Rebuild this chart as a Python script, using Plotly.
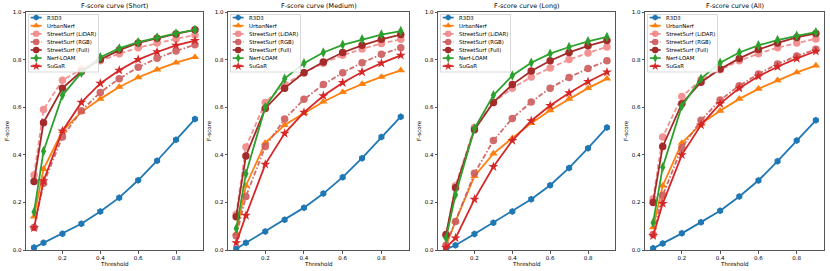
import plotly.graph_objects as go

thresholds = [0.05, 0.1, 0.2, 0.3, 0.4, 0.5, 0.6, 0.7, 0.8, 0.9]
panel_titles = ["F-score curve (Short)", "F-score curve (Medium)", "F-score curve (Long)", "F-score curve (All)"]
methods = ["R3D3", "UrbanNerf", "StreetSurf (LiDAR)", "StreetSurf (RGB)", "StreetSurf (Full)", "Nerf-LOAM", "SuGaR"]

short_r3d3 = [0.01, 0.03, 0.068, 0.11, 0.162, 0.22, 0.293, 0.375, 0.463, 0.55]
short_urban = [0.14, 0.34, 0.50, 0.58, 0.635, 0.685, 0.725, 0.758, 0.787, 0.81]
short_lidar = [0.315, 0.59, 0.713, 0.76, 0.795, 0.825, 0.85, 0.87, 0.887, 0.903]
short_rgb = [0.095, 0.28, 0.475, 0.585, 0.662, 0.72, 0.768, 0.806, 0.836, 0.862]
short_full = [0.288, 0.535, 0.68, 0.75, 0.80, 0.84, 0.87, 0.89, 0.908, 0.925]
short_nerfloam = [0.16, 0.415, 0.65, 0.745, 0.81, 0.847, 0.873, 0.893, 0.91, 0.925]
short_sugar = [0.093, 0.29, 0.50, 0.62, 0.70, 0.755, 0.80, 0.832, 0.86, 0.88]

medium_r3d3 = [0.005, 0.03, 0.078, 0.127, 0.178, 0.237, 0.306, 0.386, 0.475, 0.56]
medium_urban = [0.07, 0.27, 0.45, 0.525, 0.575, 0.623, 0.663, 0.697, 0.727, 0.755]
medium_lidar = [0.15, 0.433, 0.62, 0.695, 0.745, 0.785, 0.818, 0.845, 0.868, 0.885]
medium_rgb = [0.06, 0.225, 0.435, 0.55, 0.633, 0.695, 0.745, 0.787, 0.822, 0.85]
medium_full = [0.14, 0.395, 0.595, 0.68, 0.745, 0.79, 0.83, 0.86, 0.885, 0.905]
medium_nerfloam = [0.09, 0.32, 0.60, 0.72, 0.785, 0.83, 0.862, 0.885, 0.905, 0.92]
medium_sugar = [0.03, 0.145, 0.36, 0.49, 0.578, 0.648, 0.703, 0.748, 0.785, 0.818]

long_r3d3 = [0.003, 0.02, 0.067, 0.115, 0.162, 0.213, 0.272, 0.345, 0.428, 0.515]
long_urban = [0.02, 0.12, 0.31, 0.405, 0.47, 0.533, 0.587, 0.635, 0.68, 0.72]
long_lidar = [0.06, 0.27, 0.515, 0.62, 0.68, 0.727, 0.765, 0.80, 0.828, 0.853]
long_rgb = [0.02, 0.12, 0.322, 0.46, 0.553, 0.622, 0.68, 0.725, 0.763, 0.795]
long_full = [0.065, 0.262, 0.505, 0.62, 0.695, 0.752, 0.795, 0.83, 0.858, 0.88]
long_nerfloam = [0.05, 0.232, 0.51, 0.65, 0.733, 0.787, 0.825, 0.853, 0.877, 0.895]
long_sugar = [0.01, 0.05, 0.213, 0.35, 0.46, 0.543, 0.607, 0.66, 0.707, 0.747]

all_r3d3 = [0.007, 0.027, 0.07, 0.117, 0.165, 0.225, 0.292, 0.373, 0.46, 0.545]
all_urban = [0.095, 0.27, 0.45, 0.53, 0.585, 0.635, 0.677, 0.713, 0.746, 0.775]
all_lidar = [0.215, 0.475, 0.645, 0.715, 0.757, 0.795, 0.825, 0.85, 0.87, 0.887]
all_rgb = [0.065, 0.23, 0.43, 0.545, 0.63, 0.69, 0.74, 0.782, 0.815, 0.843]
all_full = [0.2, 0.435, 0.615, 0.705, 0.76, 0.805, 0.842, 0.87, 0.893, 0.91]
all_nerfloam = [0.115, 0.348, 0.605, 0.72, 0.787, 0.83, 0.86, 0.882, 0.9, 0.915]
all_sugar = [0.06, 0.195, 0.40, 0.525, 0.615, 0.68, 0.73, 0.77, 0.805, 0.835]

x_ticks = [0.2, 0.4, 0.6, 0.8]
y_ticks = [0.0, 0.2, 0.4, 0.6, 0.8, 1.0]

panels = [
    [short_r3d3, short_urban, short_lidar, short_rgb, short_full, short_nerfloam, short_sugar],
    [medium_r3d3, medium_urban, medium_lidar, medium_rgb, medium_full, medium_nerfloam, medium_sugar],
    [long_r3d3, long_urban, long_lidar, long_rgb, long_full, long_nerfloam, long_sugar],
    [all_r3d3, all_urban, all_lidar, all_rgb, all_full, all_nerfloam, all_sugar],
]

DASH = "5px,2.5px"
DASHDOT = "5px,2px,1.5px,2px"
styles = [
    dict(color="#1f77b4", dash="solid", symbol="hexagon", size=7, opacity=1.0),
    dict(color="#ff7f0e", dash="solid", symbol="triangle-up", size=7.5, opacity=1.0),
    dict(color="#f08080", dash=DASH, symbol="circle", size=7.5, opacity=0.85),
    dict(color="#cd5c5c", dash=DASHDOT, symbol="circle", size=7.5, opacity=0.9),
    dict(color="#a52a2a", dash="solid", symbol="circle", size=7.5, opacity=1.0),
    dict(color="#2ca02c", dash="solid", symbol="diamond-tall", size=7.5, opacity=1.0),
    dict(color="#d62728", dash="solid", symbol="star", size=7.5, opacity=1.0),
]

W, H = 830, 271
x_px = [(26, 203), (228, 409), (438, 615), (645, 824)]
y_top, y_bot = 12, 250
font = "DejaVu Sans"
axis_color = "#555"
text_color = "#000000"

fig = go.Figure()
annotations = []
layout = dict(
    template="none",
    width=W, height=H, margin=dict(l=0, r=0, t=0, b=0, pad=0, autoexpand=False),
    paper_bgcolor="white", plot_bgcolor="rgba(0,0,0,0)",
    font=dict(family=font, size=6, color=text_color),
    showlegend=False, hovermode=False,
)

# data traces
for p in range(4):
    sfx = "" if p == 0 else str(p + 1)
    for m in range(7):
        st = styles[m]
        fig.add_trace(go.Scatter(
            x=thresholds, y=panels[p][m], name=methods[m], mode="lines+markers",
            xaxis="x" + sfx, yaxis="y" + sfx,
            line=dict(color=st["color"], width=1.8, dash=st["dash"]),
            marker=dict(color=st["color"], symbol=st["symbol"], size=st["size"], line=dict(width=0)),
            opacity=st["opacity"],
        ))
    x0, x1 = x_px[p]
    layout["xaxis" + sfx] = dict(
        domain=[x0 / W, x1 / W], range=[0.0075, 0.9425], tickvals=x_ticks,
        ticktext=[f"{v:.1f}" for v in x_ticks], automargin=False,
        showgrid=False, zeroline=False, showline=True, mirror=True, linecolor=axis_color, linewidth=1,
        ticks="outside", ticklen=2.5, tickcolor=axis_color, tickfont=dict(size=5.5, family=font, color=text_color),
        anchor="y" + sfx, fixedrange=True,
    )
    layout["yaxis" + sfx] = dict(
        domain=[1 - y_bot / H, 1 - y_top / H], range=[0, 1.0], tickvals=y_ticks,
        ticktext=[f"{v:.1f}" for v in y_ticks], automargin=False,
        showgrid=False, zeroline=False, showline=True, mirror=True, linecolor=axis_color, linewidth=1,
        ticks="outside", ticklen=2.5, tickcolor=axis_color, tickfont=dict(size=5.5, family=font, color=text_color),
        anchor="x" + sfx, fixedrange=True,
    )
    annotations.append(dict(
        text=panel_titles[p], x=(x0 + x1) / 2 / W, y=1 - 6 / H, xref="paper", yref="paper",
        showarrow=False, font=dict(size=6.4, family=font, color=text_color), xanchor="center", yanchor="middle",
    ))
    annotations.append(dict(
        text="Threshold", x=(x0 + x1) / 2 / W, y=1 - 264 / H, xref="paper", yref="paper",
        showarrow=False, font=dict(size=5.6, family=font, color=text_color), xanchor="center", yanchor="middle",
    ))
    annotations.append(dict(
        text="F-score", x=(x0 - 19) / W, y=1 - (y_top + y_bot) / 2 / H, xref="paper", yref="paper",
        showarrow=False, textangle=-90, font=dict(size=5.6, family=font, color=text_color),
        xanchor="center", yanchor="middle",
    ))

# compact matplotlib-style legends drawn on a pixel overlay axis
layout["xaxis5"] = dict(domain=[0, 1], range=[0, W], visible=False, fixedrange=True, anchor="y5", automargin=False)
layout["yaxis5"] = dict(domain=[0, 1], range=[H, 0], visible=False, fixedrange=True, anchor="x5", automargin=False)
leg_top, leg_bot, leg_w = 14.5, 72, 70
row0, row_step = 17.6, 8.1
for p in range(4):
    x0, _ = x_px[p]
    L = x0 + 2.5
    fig.add_trace(go.Scatter(
        x=[L, L + leg_w, L + leg_w, L, L], y=[leg_top, leg_top, leg_bot, leg_bot, leg_top],
        mode="lines", fill="toself", fillcolor="rgba(255,255,255,0.85)",
        line=dict(color="#cfcfcf", width=0.8), xaxis="x5", yaxis="y5", hoverinfo="skip",
    ))
    for m in range(7):
        st = styles[m]
        yy = row0 + row_step * m
        fig.add_trace(go.Scatter(
            x=[L + 2.2, L + 13.2], y=[yy, yy], mode="lines",
            line=dict(color=st["color"], width=1.7, dash=st["dash"]),
            opacity=st["opacity"], xaxis="x5", yaxis="y5", hoverinfo="skip",
        ))
        fig.add_trace(go.Scatter(
            x=[L + 7.7], y=[yy], mode="markers",
            marker=dict(color=st["color"], symbol=st["symbol"], size=st["size"] - 1, line=dict(width=0)),
            opacity=st["opacity"], xaxis="x5", yaxis="y5", hoverinfo="skip",
        ))
        annotations.append(dict(
            text=methods[m], x=(L + 16.5) / W, y=1 - yy / H, xref="paper", yref="paper",
            showarrow=False, font=dict(size=5.4, family=font, color=text_color),
            xanchor="left", yanchor="middle",
        ))

layout["annotations"] = annotations
fig.update_layout(**layout)
fig.write_html(
    "out.html",
    config={"displayModeBar": False, "staticPlot": True},
    post_script="document.body.style.margin='0';document.body.style.overflow='hidden';",
)
